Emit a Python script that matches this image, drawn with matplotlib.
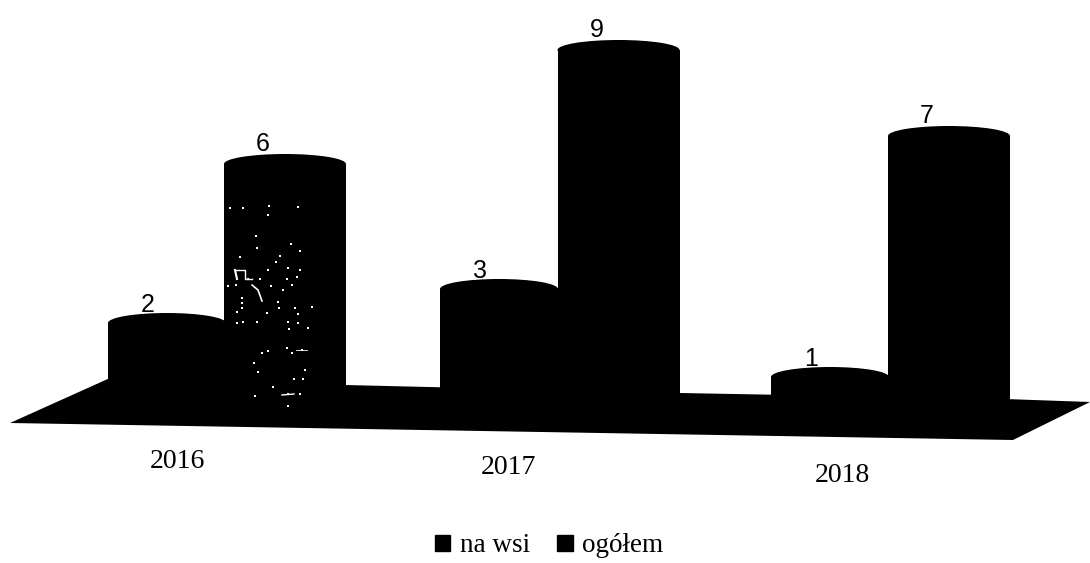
import numpy as np
import matplotlib
matplotlib.use("Agg")
import matplotlib.pyplot as plt
from matplotlib.patches import Ellipse, Patch, Polygon

years = ["2016", "2017", "2018"]
na_wsi = [2, 3, 1]
ogolem = [6, 9, 7]
series_names = ["na wsi", "ogółem"]

# layout, in pixels of the scan
left_x = np.array([167, 499, 830])
right_x = np.array([285, 618.5, 949])
base_left = np.array([401, 406, 416])
base_right = np.array([398, 401, 409])
year_x = [177, 508, 842]
year_y = [462, 468, 475]
unit = 39
floor = [(10, 423), (110, 378), (345, 385), (680, 393), (1005, 399), (1090, 402), (1013, 440)]

speck_x = [208, 203, 168, 272, 172, 300, 120, 240, 227, 264, 300, 205, 145, 180, 212, 275,
           262, 290, 85, 108, 125, 125, 125, 112, 238, 285, 200, 172, 265, 293, 268, 293,
           233, 248, 305, 275, 262, 205, 185, 162, 315, 283, 308, 175, 165, 265, 265, 300,
           220, 110, 130, 325, 335, 90, 130, 295]
speck_y = [48, 76, 137, 163, 175, 183, 200, 198, 216, 233, 240, 240, 267, 268, 288, 285,
           268, 262, 288, 285, 325, 340, 355, 365, 353, 355, 370, 395, 397, 398, 418, 372,
           335, 300, 480, 490, 475, 483, 490, 518, 541, 568, 568, 547, 618, 613, 647, 613,
           590, 400, 395, 415, 350, 55, 55, 50]

fig = plt.figure(figsize=(10.9, 5.63), dpi=100)
ax = fig.add_axes([0, 0, 1, 1])
ax.set_xlim(0, 1090)
ax.set_ylim(563, 0)
ax.axis("off")

ax.add_patch(Polygon(floor, closed=True, color="black", lw=0))

for vals, xs, bases, w, label_dx, label_dy in [(na_wsi, left_x, base_left, 118, -19, -18),
                                               (ogolem, right_x, base_right, 122, -22, -20)]:
    vals = np.array(vals)
    tops = bases - vals * unit
    ax.bar(xs, vals * -unit, bottom=bases, width=w, color="black", lw=0)
    for x, t, v in zip(xs, tops, vals):
        ax.add_patch(Ellipse((x, t), w, 20, color="black", lw=0))
        ax.text(x + label_dx, t + label_dy, str(v), ha="center", va="center",
                family="Liberation Sans", fontsize=18, color="black")

ax.plot(np.array(speck_x) / 3 + 200, np.array(speck_y) / 3 + 190, ls="none", marker="s",
        ms=1.8, color="white", mew=0)
ax.plot([235, 245, 245, 252], [270, 270, 279, 279], color="white", lw=1)
ax.plot([235, 237], [270, 279], color="white", lw=1.5)
ax.plot([252, 258, 262], [285, 290, 301], color="white", lw=1.2)
ax.plot([296, 307], [350, 350], color="white", lw=0.6)
ax.plot([282, 294], [395, 394], color="white", lw=1)

for x, y, lab in zip(year_x, year_y, years):
    ax.text(x, y, lab, ha="center", va="center", family="Liberation Serif", fontsize=20,
            color="black")

handles = [Patch(color="black", label=n) for n in series_names]
ax.legend(handles=handles, ncol=2, frameon=False, loc="center",
          bbox_to_anchor=(549 / 1090, 1 - 546 / 563),
          prop={"family": "Liberation Serif", "size": 19.5},
          handlelength=0.58, handleheight=0.58, handletextpad=0.35, columnspacing=1.0)

fig.savefig("out.png", dpi=100, facecolor="white")
